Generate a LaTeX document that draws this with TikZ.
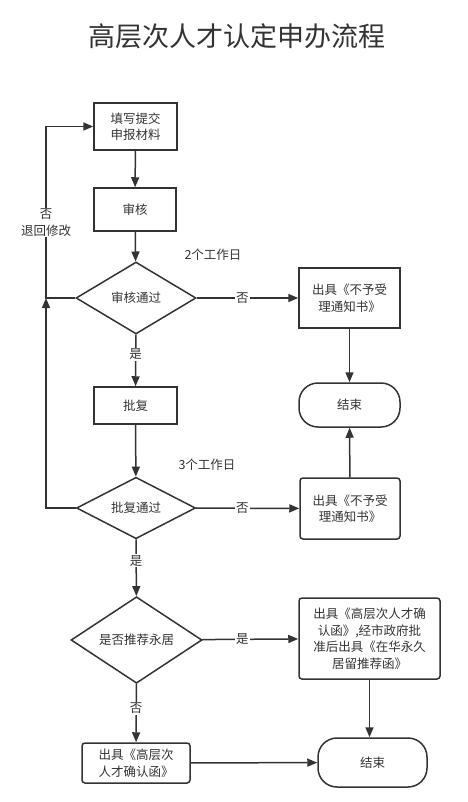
\documentclass[tikz,border=0pt]{standalone}
\usepackage{fontspec}
\setmainfont{Noto Sans CJK SC}
\usetikzlibrary{arrows.meta,shapes.geometric}
\definecolor{flowgray}{HTML}{333333}

\begin{document}
\begin{tikzpicture}[x=1pt,y=-1pt,->,>={Triangle[length=10pt,width=8pt]},line width=1.5pt,draw=flowgray,color=flowgray,
    every node/.style={font=\fontsize{12.5}{16.5}\selectfont,text=flowgray},
    proc node/.style={rectangle,draw,align=center,inner sep=2pt},
    dec node/.style={diamond,draw,inner sep=0pt},
    end node/.style={rectangle,draw,rounded corners=19pt,minimum width=101pt,minimum height=44pt},
    lbl/.style={fill=white,inner sep=1pt}]
                \useasboundingbox (0,0) rectangle (467,802);
                \node (title) at (237,36) {\fontsize{27}{30}\selectfont 高层次人才认定申办流程};
                \node[proc node,minimum width=83pt,minimum height=47pt] (fill) at (135.5,126.5) {填写提交\\申报材料};
                \node[proc node,minimum width=82pt,minimum height=43pt] (audit) at (135,209.5) {审核};
                \node[dec node,minimum width=120pt,minimum height=72pt] (chk1) at (136,298) {审核通过};
                \node (days2) at (213,255) {2个工作日};
                \node[proc node,minimum width=101pt,minimum height=60pt] (rej1) at (349.5,298) {出具《不予受\\理通知书》};
                \node[end node] (end1) at (349.5,405) {结束};
                \node[proc node,minimum width=83pt,minimum height=37pt] (approve) at (135.5,405.5) {批复};
                \node[dec node,minimum width=119pt,minimum height=50pt] (chk2) at (136,508) {批复通过};
                \node (days3) at (207,465) {3个工作日};
                \node[proc node,rounded corners=3pt,minimum width=100pt,minimum height=61pt] (rej2) at (350,508.5) {出具《不予受\\理通知书》};
                \node[dec node,minimum width=131pt,minimum height=67pt] (chk3) at (136.5,640) {是否推荐永居};
                \node[proc node,rounded corners=3pt,minimum width=141pt,minimum height=81pt] (issue) at (369.5,638.5) {出具《高层次人才确\\认函》,经市政府批\\准后出具《在华永久\\居留推荐函》};
                \node[end node,minimum width=109pt,minimum height=49pt] (end2) at (372.5,762.5) {结束};
                \node[proc node,rounded corners=3pt,minimum width=108pt,minimum height=40pt] (confirm) at (136,763) {出具《高层次\\人才确认函》};
                \coordinate (loop) at (46,298);

                \path
                    (fill) edge (audit)
                    (audit) edge (chk1)
                    (chk1) edge node[lbl,pos=0.38] {是} (approve)
                    (approve) edge (chk2)
                    (chk2) edge node[lbl,pos=0.38] {是} (chk3)
                    (chk3) edge node[lbl,pos=0.42] {否} (confirm)
                    (chk1) edge node[lbl,pos=0.45] {否} (rej1)
                    (chk2) edge node[lbl,pos=0.45] {否} (rej2)
                    (chk3) edge node[lbl,pos=0.42] {是} (issue)
                    (rej1) edge (end1)
                    (rej2) edge (end1)
                    (confirm) edge (end2)
                ;
                \draw (issue.south) -- (issue.south |- end2.north);
                \draw (chk1.west) -- (loop) |- node[lbl,pos=0.22,align=center] {否\\退回修改} (fill.west);
                \draw (chk2.west) -| (loop);

            \end{tikzpicture}
\end{document}
